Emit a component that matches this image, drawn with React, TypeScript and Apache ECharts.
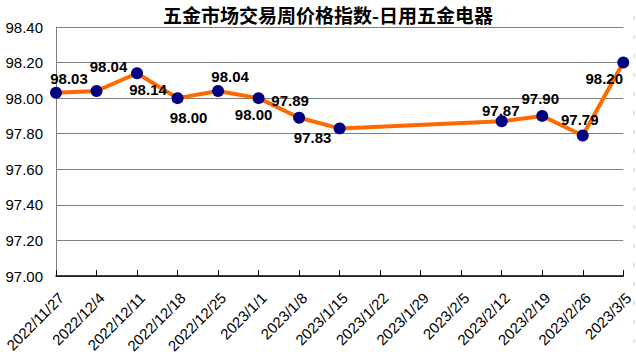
import React, { useEffect, useRef } from "react";
import * as echarts from "echarts";

const categories = [
  "2022/11/27", "2022/12/4", "2022/12/11", "2022/12/18", "2022/12/25",
  "2023/1/1", "2023/1/8", "2023/1/15", "2023/1/22", "2023/1/29",
  "2023/2/5", "2023/2/12", "2023/2/19", "2023/2/26", "2023/3/5",
];
const values: (number | null)[] = [
  98.03, 98.04, 98.14, 98.0, 98.04, 98.0, 97.89, 97.83, null, null, null,
  97.87, 97.9, 97.79, 98.2,
];
const labelOffsets: [number, number][] = [
  [13, -14], [12, -25], [11, 16], [11, 19], [12, -15], [-5, 16], [-9, -17],
  [-27, 9], [0, 0], [0, 0], [0, 0], [-1, -11], [-2, -17], [-3, -16], [-19, 16],
];
const title = "五金市场交易周价格指数-日用五金电器";

export default function App() {
  const ref = useRef<HTMLDivElement>(null);
  useEffect(() => {
    if (!ref.current) return;
    const chart = echarts.init(ref.current, null, { renderer: "svg" });
    const data = values.map((v, i) =>
      v === null
        ? null
        : {
            value: v,
            label: { offset: labelOffsets[i] },
          }
    );
    chart.setOption({
      animation: false,
      backgroundColor: "#ffffff",
      title: {
        text: title,
        left: 158,
        top: 0,
        textStyle: {
          fontFamily: "Noto Sans CJK SC",
          fontSize: 19,
          fontWeight: "bold",
          color: "#000",
        },
      },
      grid: { left: 56, right: 9, top: 27, bottom: 80, containLabel: false },
      xAxis: {
        type: "category",
        data: categories,
        boundaryGap: false,
        axisLine: { lineStyle: { color: "#000", width: 1.5 } },
        axisTick: { inside: true, length: 6, lineStyle: { color: "#000" } },
        axisLabel: {
          rotate: 45,
          margin: 14,
          interval: 0,
          verticalAlign: "top",
          fontFamily: "Liberation Sans, Arial",
          fontSize: 15,
          color: "#000",
        },
        splitLine: { show: false },
      },
      yAxis: {
        type: "value",
        min: 97,
        max: 98.4,
        interval: 0.2,
        axisLine: { show: true, lineStyle: { color: "#808080" } },
        axisTick: { show: false },
        axisLabel: {
          margin: 13,
          fontFamily: "Liberation Sans, Arial",
          fontSize: 15,
          color: "#000",
          formatter: (v: number) => v.toFixed(2),
        },
        splitLine: { lineStyle: { color: "#808080", width: 1 } },
      },
      graphic: [
        {
          type: "line",
          shape: { x1: 634, y1: 16, x2: 634, y2: 356 },
          style: { stroke: "#c4cadb", lineWidth: 1, lineDash: [4, 15] },
        },
      ],
      series: [
        {
          type: "line",
          data,
          connectNulls: true,
          symbol: "circle",
          symbolSize: 12,
          lineStyle: { color: "#ff6a00", width: 4 },
          itemStyle: { color: "#000080" },
          label: {
            show: true,
            position: "inside",
            align: "center",
            verticalAlign: "middle",
            fontFamily: "Liberation Sans, Arial",
            fontSize: 15,
            fontWeight: "bold",
            color: "#000",
            formatter: (p: any) => Number(p.value).toFixed(2),
          },
        },
      ],
    });
    return () => chart.dispose();
  }, []);
  return (
    <div
      ref={ref}
      style={{ position: "absolute", left: 0, top: 0, width: 636, height: 356 }}
    />
  );
}
